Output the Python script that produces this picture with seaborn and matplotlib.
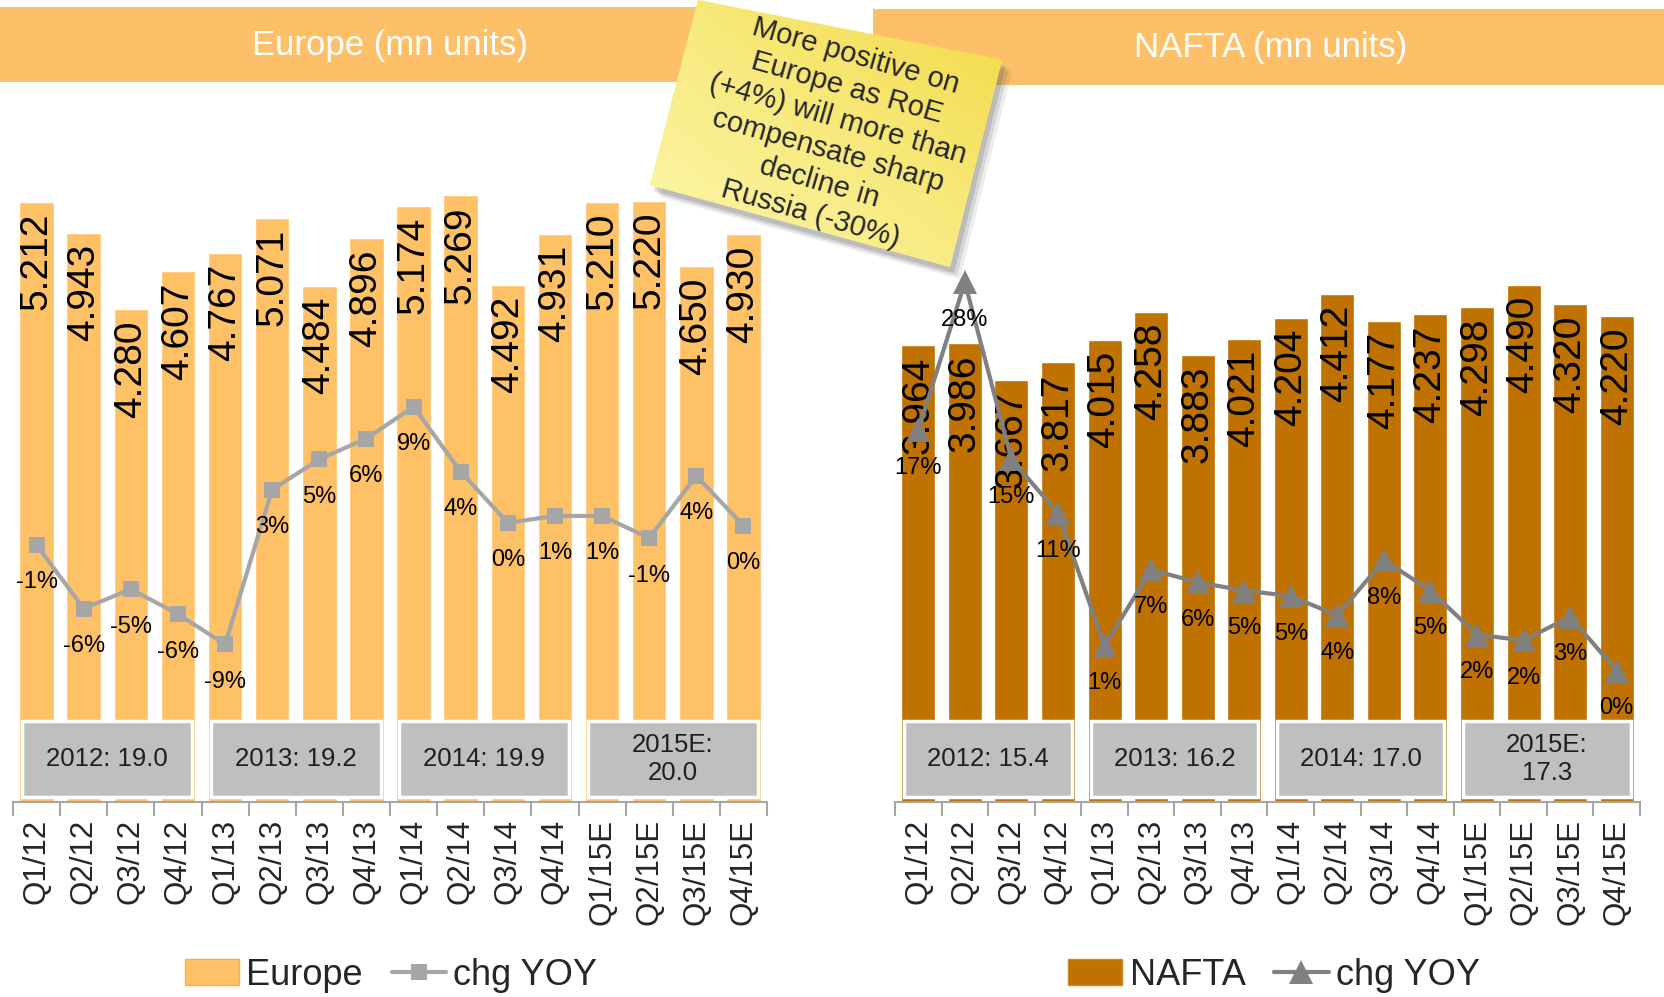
import numpy as np
import matplotlib
matplotlib.use("Agg")
import matplotlib.pyplot as plt
from matplotlib.patches import Rectangle, Polygon, Patch
from matplotlib.lines import Line2D
from matplotlib.colors import LinearSegmentedColormap
import seaborn as sns

sns.set_style("white")
plt.rcParams['font.family'] = ['Liberation Sans', 'DejaVu Sans']

quarters = ["Q1/12", "Q2/12", "Q3/12", "Q4/12", "Q1/13", "Q2/13", "Q3/13", "Q4/13",
            "Q1/14", "Q2/14", "Q3/14", "Q4/14", "Q1/15E", "Q2/15E", "Q3/15E", "Q4/15E"]

europe = [5.212, 4.943, 4.280, 4.607, 4.767, 5.071, 4.484, 4.896,
          5.174, 5.269, 4.492, 4.931, 5.210, 5.220, 4.650, 4.930]
europe_yoy = [-1.4, -6.0, -4.6, -6.4, -8.6, 2.6, 4.8, 6.3,
              8.6, 3.9, 0.2, 0.7, 0.7, -0.9, 3.6, 0.0]
europe_years = ["2012: 19.0", "2013: 19.2", "2014: 19.9", "2015E:\n20.0"]

nafta = [3.964, 3.986, 3.667, 3.817, 4.015, 4.258, 3.883, 4.021,
         4.204, 4.412, 4.177, 4.237, 4.298, 4.490, 4.320, 4.220]
nafta_yoy = [16.9, 27.6, 14.8, 10.9, 1.3, 6.8, 5.9, 5.3,
             4.9, 3.5, 7.5, 5.3, 2.1, 1.7, 3.4, -0.5]
nafta_years = ["2012: 15.4", "2013: 16.2", "2014: 17.0", "2015E:\n17.3"]

note_text = ("More positive on\nEurope as RoE\n(+4%) will more than\n"
             "compensate sharp\ndecline in\nRussia (-30%)")

W, H = 1665, 997
fig = plt.figure(figsize=(W / 100, H / 100), dpi=100)


def panel(left_px, right_px, bars, yoy, years, bar_color, line_color, marker, ms, y2lim):
    ax = fig.add_axes([left_px / W, 1 - 802 / H, (right_px - left_px) / W, (802 - 111) / H])
    sns.barplot(x=quarters, y=bars, ax=ax, color=bar_color, saturation=1, width=0.73)
    ax.set_ylim(0, 6)
    ax.set_xlim(-0.5, 15.5)
    for i, v in enumerate(bars):
        ax.annotate(f"{v:.3f}", (i, v), xytext=(0, -8), textcoords="offset points",
                    rotation=90, ha="center", va="top", fontsize=28, color="black")
    # yearly total boxes
    for k, txt in enumerate(years):
        ax.add_patch(Rectangle((4 * k - 0.3, 0.04), 3.6, 0.66, facecolor="#BFBFBF",
                               edgecolor="white", lw=2.5, zorder=3))
        ax.text(4 * k + 1.5, 0.37, txt, ha="center", va="center", fontsize=18.5,
                color="#1f1f1f", zorder=4, linespacing=1.2)
    for s in ["top", "left", "right"]:
        ax.spines[s].set_visible(False)
    ax.spines["bottom"].set_color("#A6A6A6")
    ax.spines["bottom"].set_linewidth(1.5)
    ax.set_yticks([])
    ax.set_xlabel("")
    ax.set_ylabel("")
    ax.set_xticks(np.arange(-0.5, 16, 1), minor=True)
    ax.tick_params(axis="x", which="minor", length=10, width=1.5, color="#A6A6A6",
                   direction="out", bottom=True)
    ax.tick_params(axis="x", which="major", length=0, pad=12, labelsize=22.5,
                   labelrotation=90)

    ax2 = ax.twinx()
    sns.lineplot(x=np.arange(len(yoy)), y=yoy, ax=ax2, color=line_color, lw=3,
                 marker=marker, markersize=ms, markeredgewidth=0)
    for i, v in enumerate(yoy):
        ax2.annotate(f"{round(v)}%", (i, v), xytext=(0, -27), textcoords="offset points",
                     ha="center", va="center", fontsize=17, color="black")
    ax2.set_ylim(*y2lim)
    ax2.set_xlim(-0.5, 15.5)
    ax2.axis("off")
    return ax


panel(13, 767, europe, europe_yoy, europe_years, "#FFC166", "#A6A6A6", "s", 11, (-20, 30))
panel(895, 1640, nafta, nafta_yoy, nafta_years, "#BF7200", "#808080", "^", 17, (-10, 40))

# legends
leg_kw = dict(loc="center", ncol=2, frameon=False, fontsize=26, handlelength=1.5,
              handletextpad=0.2, columnspacing=0.8)
fig.legend([Patch(facecolor="#FFC166", edgecolor="#F5B04E"),
            Line2D([], [], color="#A6A6A6", lw=3, marker="s", ms=11, mew=0)],
           ["Europe", "chg YOY"], bbox_to_anchor=(391 / W, 1 - 975 / H), **leg_kw)
fig.legend([Patch(facecolor="#BF7200", edgecolor="#D08A20"),
            Line2D([], [], color="#808080", lw=3, marker="^", ms=17, mew=0)],
           ["NAFTA", "chg YOY"], bbox_to_anchor=(1274 / W, 1 - 975 / H), **leg_kw)

# overlay in pixel coordinates: title bands and sticky note
ov = fig.add_axes([0, 0, 1, 1], zorder=10)
ov.set_xlim(0, W)
ov.set_ylim(H, 0)
ov.axis("off")
ov.patch.set_alpha(0)

ov.add_patch(Rectangle((0, 7), 720, 75, facecolor="#FDC068", edgecolor="none"))
ov.add_patch(Rectangle((873, 9), W - 873, 76, facecolor="#FDC068", edgecolor="none"))
ov.text(390, 45, "Europe (mn units)", color="white", fontsize=25, ha="center", va="center")
ov.text(1271, 47, "NAFTA (mn units)", color="white", fontsize=25, ha="center", va="center")

corners = [(698, 0), (1002, 60), (950, 267), (650, 185)]
for dx, dy, a in [(10, 12, 0.10), (7, 9, 0.15), (4, 6, 0.2)]:
    ov.add_patch(Polygon([(x + dx, y + dy) for x, y in corners], closed=True,
                         facecolor="#555555", edgecolor="none", alpha=a))
note = Polygon(corners, closed=True, facecolor="#F8EC80", edgecolor="none")
ov.add_patch(note)
gx, gy = np.meshgrid(np.linspace(0, 1, 200), np.linspace(0, 1, 200))
grad = (gx + (1 - gy)) / 2
cmap = LinearSegmentedColormap.from_list("note", ["#FCF8B0", "#F8EA7E", "#F3DA45"])
im = ov.imshow(grad, cmap=cmap, extent=(650, 1002, 267, 0), origin="upper",
               aspect="auto", zorder=2)
im.set_clip_path(note)
ov.text(833, 135, note_text, rotation=-16, rotation_mode="anchor", ha="center",
        va="center", fontsize=21, linespacing=1.22, multialignment="center", zorder=3)
ov.set_xlim(0, W)
ov.set_ylim(H, 0)

fig.savefig("out.png", dpi=100)
